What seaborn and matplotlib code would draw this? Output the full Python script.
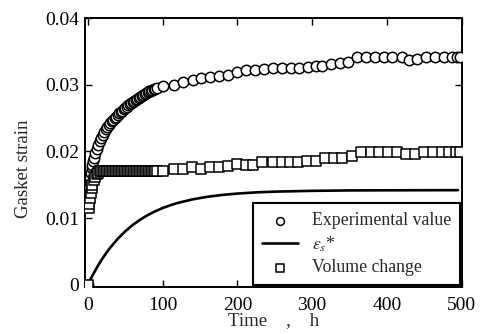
import matplotlib
matplotlib.use("Agg")
import matplotlib.pyplot as plt
import seaborn as sns
import pandas as pd

# experimental value (circles)
exp_hours = [0, 1, 2, 3, 4, 5, 6, 7, 8, 10, 12, 14, 16, 18, 20, 22, 24, 26, 28, 30,
             32, 34, 36, 38, 40, 42, 44, 46, 48, 50, 52, 54, 56, 58, 60, 62, 64, 66,
             68, 70, 72, 74, 76, 78, 80, 82, 84, 86, 88, 90, 92,
             101, 115, 127, 140, 152, 164, 175, 187, 199, 211, 223, 235, 247, 259,
             272, 283, 295, 305, 313, 325, 337, 348, 360, 372, 384, 396, 407, 420,
             429, 440, 452, 464, 476, 487, 493, 497]
exp_strain = [0.0, 0.0125, 0.0145, 0.016, 0.0168, 0.0175, 0.018, 0.0185, 0.019, 0.0197,
              0.0204, 0.021, 0.0215, 0.022, 0.0225, 0.0229, 0.0233, 0.0236, 0.0239, 0.0242,
              0.0245, 0.0247, 0.025, 0.0252, 0.0255, 0.0257, 0.0259, 0.0261, 0.0263, 0.0265,
              0.0267, 0.0269, 0.0271, 0.0273, 0.0274, 0.0276, 0.0277, 0.0279, 0.028, 0.0282,
              0.0283, 0.0285, 0.0286, 0.0288, 0.0289, 0.029, 0.0291, 0.0292, 0.0293, 0.0294,
              0.0295,
              0.0298, 0.0300, 0.0304, 0.0307, 0.0310, 0.0312, 0.0313, 0.0315, 0.0319, 0.0322,
              0.0322, 0.0324, 0.0325, 0.0325, 0.0325, 0.0325, 0.0327, 0.0328, 0.0328, 0.0331,
              0.0333, 0.0334, 0.0342, 0.0342, 0.0342, 0.0342, 0.0342, 0.0342, 0.0337, 0.0338,
              0.0342, 0.0342, 0.0342, 0.0342, 0.0342, 0.0342]

# volume change (squares)
vol_hours = [0, 1, 2, 3, 4, 5, 6, 8, 10, 12, 14, 16, 18, 20, 22, 24, 26, 28, 30, 32,
             34, 36, 38, 40, 42, 44, 46, 48, 50, 52, 54, 56, 58, 60, 62, 64, 66, 68, 70,
             72, 74, 76, 78, 80, 82, 84, 86, 88, 90, 92,
             101, 115, 127, 139, 151, 163, 175, 187, 199, 211, 221, 233, 247, 259, 271,
             281, 293, 305, 317, 329, 340, 353, 365, 379, 389, 401, 413, 425, 437, 449,
             461, 473, 483, 492, 497]
vol_strain = [0.0, 0.0115, 0.0122, 0.013, 0.0138, 0.0145, 0.015, 0.0157, 0.0162, 0.0166,
              0.0168, 0.017, 0.017, 0.017, 0.017, 0.017, 0.017, 0.017, 0.017, 0.017,
              0.017, 0.017, 0.017, 0.017, 0.017, 0.017, 0.017, 0.017, 0.017, 0.017,
              0.017, 0.017, 0.017, 0.017, 0.017, 0.017, 0.017, 0.017, 0.017, 0.017,
              0.017, 0.017, 0.017, 0.017, 0.017, 0.017, 0.017, 0.017, 0.017, 0.017,
              0.0170, 0.0173, 0.0173, 0.0176, 0.0173, 0.0176, 0.0176, 0.0178, 0.0181, 0.0179,
              0.0179, 0.0184, 0.0184, 0.0184, 0.0184, 0.0184, 0.0185, 0.0185, 0.0190, 0.0190,
              0.0190, 0.0193, 0.0199, 0.0199, 0.0199, 0.0199, 0.0199, 0.0196, 0.0196, 0.0199,
              0.0199, 0.0199, 0.0199, 0.0199, 0.0199]

# calculated eps_s* (solid line)
calc_hours = [0, 5, 10, 15, 20, 25, 30, 40, 50, 60, 70, 80, 90, 100, 110, 120, 140, 160,
              180, 200, 225, 250, 300, 350, 400, 495]
calc_strain = [0.0, 0.00114, 0.00218, 0.00314, 0.00403, 0.00484, 0.00559, 0.00691, 0.00803,
               0.00898, 0.00978, 0.01046, 0.01103, 0.01152, 0.01193, 0.01228, 0.01282,
               0.01321, 0.01349, 0.01369, 0.01387, 0.01398, 0.01410, 0.01416, 0.01418, 0.0142]

exp_df = pd.DataFrame({"t": exp_hours, "s": exp_strain})
vol_df = pd.DataFrame({"t": vol_hours, "s": vol_strain})
calc_df = pd.DataFrame({"t": calc_hours, "s": calc_strain})

sns.set_style("ticks")
plt.rcParams["font.family"] = ["Liberation Serif", "DejaVu Serif"]
plt.rcParams["mathtext.fontset"] = "stix"
plt.rcParams["font.size"] = 12

fig = plt.figure(figsize=(4.82, 3.34), dpi=100)
ax = fig.add_axes([0.176, 0.141, 0.782, 0.805])

sns.scatterplot(data=exp_df, x="t", y="s", ax=ax, marker="o", s=56,
                facecolor="white", edgecolor="black", linewidth=1.1,
                label="Experimental value", zorder=3)
sns.lineplot(data=calc_df, x="t", y="s", ax=ax, color="black", linewidth=1.9,
             label=r"$\varepsilon_s$*", zorder=2)
sns.scatterplot(data=vol_df, x="t", y="s", ax=ax, marker="s", s=52,
                facecolor="white", edgecolor="black", linewidth=1.1,
                label="Volume change", zorder=3)

ax.set_xlim(-4, 500)
ax.set_ylim(-0.0003, 0.04)
ax.set_xticks([0, 100, 200, 300, 400, 500])
ax.set_yticks([0, 0.01, 0.02, 0.03, 0.04])
ax.set_yticklabels(["0", "0.01", "0.02", "0.03", "0.04"])
ax.tick_params(direction="in", top=True, right=True, length=5, width=1,
               labelsize=14, colors="black", pad=4)
ax.tick_params(axis="x", pad=7)
for sp in ax.spines.values():
    sp.set_linewidth(1.4)
    sp.set_color("black")

ax.set_xlabel("Time    ,    h", fontsize=13.5, labelpad=-1)
ax.set_ylabel("Gasket strain", fontsize=13.5)
ax.yaxis.set_label_coords(-0.14, 0.44)

handles, labels = ax.get_legend_handles_labels()
order = [labels.index("Experimental value"), labels.index(r"$\varepsilon_s$*"),
         labels.index("Volume change")]
leg = ax.legend([handles[i] for i in order], [labels[i] for i in order],
                loc="lower right", bbox_to_anchor=(1.0, 0.0), borderaxespad=0.1,
                fancybox=False, edgecolor="black", framealpha=1, fontsize=12.8,
                handlelength=2.0, labelspacing=0.3, borderpad=0.5, markerscale=0.75)
leg.get_frame().set_linewidth(1.5)

fig.savefig("out.png", dpi=100)
